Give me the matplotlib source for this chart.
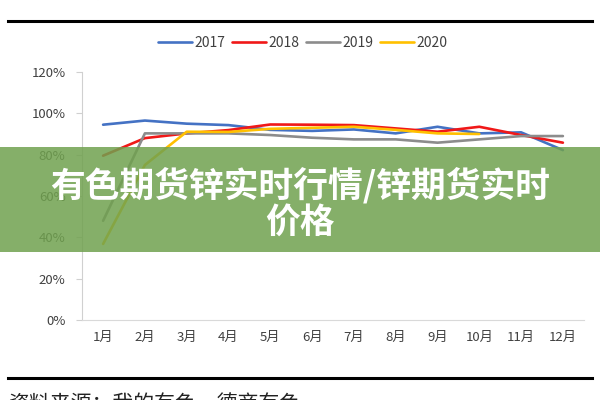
"""
Zinc galvanizing operating rate by month, 2017-2020, with a title banner.

    python plot.py

Writes out.png (600x400).
"""

import matplotlib

matplotlib.use("Agg")
import matplotlib.pyplot as plt
from matplotlib.lines import Line2D
from matplotlib.patches import Rectangle
from matplotlib.ticker import PercentFormatter

plt.rcParams["font.family"] = ["Noto Sans CJK SC", "DejaVu Sans"]

months = ["1月", "2月", "3月", "4月", "5月", "6月",
          "7月", "8月", "9月", "10月", "11月", "12月"]
rate_2017 = [94.5, 96.5, 95.0, 94.3, 92.0, 91.5, 92.2, 90.3, 93.5, 90.3, 90.8, 82.2]
rate_2018 = [79.5, 88.0, 90.3, 91.9, 94.6, 94.5, 94.3, 92.7, 91.1, 93.5, 89.5, 85.8]
rate_2019 = [48.0, 90.3, 90.3, 90.3, 89.5, 88.2, 87.4, 87.4, 85.8, 87.4, 89.0, 89.0]
rate_2020 = [36.8, 75.0, 91.1, 91.0, 92.5, 93.0, 93.5, 92.0, 90.3, 90.0]

series = [
    ("2017", rate_2017, "#4472c4"),
    ("2018", rate_2018, "#f01818"),
    ("2019", rate_2019, "#8c8c8c"),
    ("2020", rate_2020, "#ffc000"),
]

banner_line1 = "有色期货锌实时行情/锌期货实时"
banner_line2 = "价格"
caption_top = "图4：镀锌开工率"
caption_bottom = "资料来源：我的有色，德商有色"

fig = plt.figure(figsize=(6, 4), dpi=100)
ax = fig.add_axes([0.137, 0.2, 0.836, 0.62])

for name, values, color in series:
    ax.plot(range(len(values)), values, color=color, lw=1.9,
            label=name, solid_capstyle="round")

ax.set_xlim(-0.5, len(months) - 0.5)
ax.set_ylim(0, 120)
ax.set_yticks(range(0, 121, 20))
ax.yaxis.set_major_formatter(PercentFormatter(decimals=0))
ax.set_xticks(range(len(months)))
ax.set_xticklabels(months)
ax.tick_params(axis="x", length=0, pad=8, labelsize=9.5, colors="#404040")
ax.tick_params(axis="y", length=4, width=0.8, color="#d0d0d0", pad=8,
               labelsize=9.5, labelcolor="#404040")
for side in ("top", "right"):
    ax.spines[side].set_visible(False)
ax.spines["left"].set_color("#d0d0d0")
ax.spines["bottom"].set_color("#d9d9d9")

fig.legend(loc="center", bbox_to_anchor=(0.505, 0.892), ncol=4,
           frameon=False, fontsize=10, handlelength=2.4,
           handletextpad=0.2, columnspacing=0.5, labelcolor="#404040")

# framing rules and captions cut off by the crop
for y in (1 - 21 / 400, 1 - 378 / 400):
    fig.add_artist(Line2D([0.013, 0.987], [y, y], color="black", lw=2.2,
                          transform=fig.transFigure))
fig.text(0.013, 1.02, caption_top, fontsize=14, va="center", color="#222222")
fig.text(0.013, 0.017, caption_bottom, fontsize=15, va="top", color="#222222")

# green title banner over the chart
fig.add_artist(Rectangle((0, 1 - 252 / 400), 1, 105 / 400,
                         transform=fig.transFigure, facecolor=(0.44, 0.63, 0.31),
                         alpha=0.85, edgecolor="none", zorder=5))
fig.text(0.5, 1 - 185 / 400, banner_line1, fontsize=25, fontweight="bold",
         color="white", ha="center", va="center", zorder=6)
fig.text(0.5, 1 - 222 / 400, banner_line2, fontsize=25, fontweight="bold",
         color="white", ha="center", va="center", zorder=6)

fig.savefig("out.png", dpi=100)
